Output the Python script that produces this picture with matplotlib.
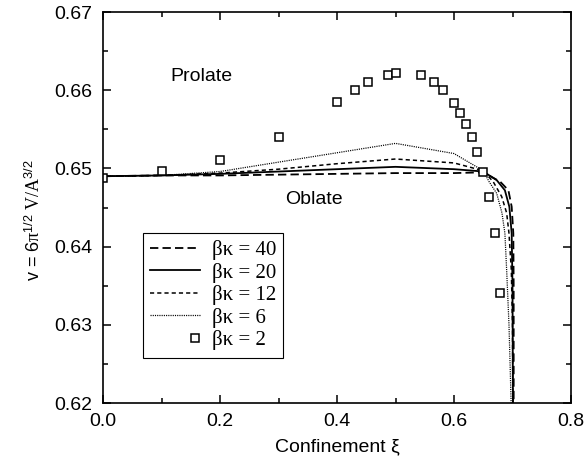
import matplotlib
matplotlib.use("Agg")
import matplotlib.pyplot as plt
from matplotlib.legend_handler import HandlerLine2D
from matplotlib.lines import Line2D
from matplotlib.ticker import MultipleLocator, FormatStrFormatter

plt.rcParams['font.family'] = ['Liberation Sans', 'DejaVu Sans']
plt.rcParams['mathtext.fontset'] = 'custom'
plt.rcParams['mathtext.rm'] = 'Liberation Serif'
plt.rcParams['mathtext.it'] = 'Liberation Serif:italic'
plt.rcParams['mathtext.sf'] = 'Liberation Sans'
plt.rcParams['lines.scale_dashes'] = False

# ---- data ----
xi_k40 = [0.0, 0.1, 0.2, 0.3, 0.4, 0.5, 0.6, 0.65, 0.679, 0.693, 0.6986, 0.7014, 0.702, 0.702]
v_k40 = [0.6490, 0.6491, 0.6491, 0.6492, 0.6493, 0.6494, 0.6494, 0.6495, 0.6483, 0.6472, 0.6451, 0.6417, 0.635, 0.615]

xi_k20 = [0.0, 0.1, 0.2, 0.3, 0.4, 0.5, 0.6, 0.65, 0.673, 0.687, 0.6946, 0.6986, 0.700, 0.701]
v_k20 = [0.6490, 0.6491, 0.6493, 0.6496, 0.6499, 0.6502, 0.6499, 0.6496, 0.6485, 0.6472, 0.6451, 0.6417, 0.635, 0.615]

xi_k12 = [0.0, 0.1, 0.2, 0.3, 0.4, 0.5, 0.6, 0.65, 0.667, 0.6815, 0.690, 0.694, 0.698, 0.700, 0.701]
v_k12 = [0.6490, 0.6491, 0.6494, 0.6499, 0.6506, 0.6512, 0.6507, 0.6497, 0.6483, 0.6464, 0.6443, 0.6417, 0.637, 0.630, 0.615]

xi_k6 = [0.0, 0.1, 0.2, 0.3, 0.4, 0.5, 0.6, 0.65, 0.66, 0.673, 0.682, 0.687, 0.690, 0.694, 0.6995]
v_k6 = [0.6490, 0.6491, 0.6496, 0.6508, 0.6520, 0.6532, 0.6519, 0.6497, 0.6483, 0.6468, 0.6443, 0.6417, 0.637, 0.630, 0.615]

xi_k2 = [0.0, 0.1, 0.2, 0.3, 0.4, 0.43, 0.453, 0.487, 0.5, 0.543, 0.566, 0.582, 0.6, 0.61,
         0.62, 0.63, 0.64, 0.65, 0.66, 0.67, 0.679]
v_k2 = [0.6488, 0.6497, 0.6511, 0.6540, 0.6585, 0.6600, 0.6610, 0.6620, 0.6622, 0.6620, 0.6610,
        0.6600, 0.6583, 0.6571, 0.6557, 0.6540, 0.6521, 0.6495, 0.6463, 0.6417, 0.6341]

labels = ['βκ = 40', 'βκ = 20', 'βκ = 12', 'βκ = 6', 'βκ = 2']

fig = plt.figure(figsize=(5.84, 4.62), dpi=100)
ax = fig.add_axes([103/584, 1-403/462, 468/584, 391/462])

l40, = ax.plot(xi_k40, v_k40, color='black', lw=1.3, dashes=(6, 3), label=labels[0])
l20, = ax.plot(xi_k20, v_k20, color='black', lw=1.3, label=labels[1])
l12, = ax.plot(xi_k12, v_k12, color='black', lw=1.1, dashes=(3, 2.2), label=labels[2])
l6, = ax.plot(xi_k6, v_k6, color='black', lw=0.9, dashes=(0.8, 0.8), label=labels[3])
l2, = ax.plot(xi_k2, v_k2, ls='none', marker='s', markersize=6, markerfacecolor='white',
              markeredgecolor='black', markeredgewidth=1.1, label=labels[4])

ax.set_xlim(0.0, 0.8)
ax.set_ylim(0.62, 0.67)
ax.xaxis.set_major_locator(MultipleLocator(0.2))
ax.xaxis.set_minor_locator(MultipleLocator(0.1))
ax.yaxis.set_major_locator(MultipleLocator(0.01))
ax.yaxis.set_minor_locator(MultipleLocator(0.005))
ax.xaxis.set_major_formatter(FormatStrFormatter('%.1f'))
ax.yaxis.set_major_formatter(FormatStrFormatter('%.2f'))

ax.tick_params(which='both', direction='in', top=True, right=True, width=1.1, labelsize=14)
ax.tick_params(which='major', length=6)
ax.tick_params(which='minor', length=3.5)
ax.tick_params(axis='x', pad=7)
ax.tick_params(axis='y', pad=8)
for s in ax.spines.values():
    s.set_linewidth(1.2)

ax.set_xlabel('Confinement ξ', fontsize=14, labelpad=6)
ax.set_ylabel(r'v = 6$\mathrm{\pi}^{\mathsf{1/2}}$ $\mathrm{V/A}^{\mathsf{3/2}}$', fontsize=13)
ax.yaxis.set_label_coords(-0.126, 0.468)

ax.text(0.1675, 0.6617, 'Prolate', fontsize=14, ha='center', va='center')
ax.text(0.361, 0.6460, 'Oblate', fontsize=14, ha='center', va='center')


class RightMarkerHandler(HandlerLine2D):
    def create_artists(self, legend, orig_handle, xdescent, ydescent, width, height,
                       fontsize, trans):
        y = (height - ydescent) / 2
        x = width - xdescent - 4
        m = Line2D([x], [y], ls='none', marker='s', markersize=6,
                   markerfacecolor='white', markeredgecolor='black', markeredgewidth=1.1)
        m.set_transform(trans)
        return [m]


leg = ax.legend(handles=[l40, l20, l12, l6, l2], loc='upper left',
                bbox_to_anchor=(0.0855, 0.4348), borderaxespad=0,
                prop={'family': 'Liberation Serif', 'size': 15},
                fancybox=False, edgecolor='black', framealpha=1,
                handlelength=2.4, handletextpad=0.55, labelspacing=0.12,
                borderpad=0.35, numpoints=1,
                handler_map={l2: RightMarkerHandler()})
leg.get_frame().set_linewidth(0.8)

fig.savefig('out.png', dpi=100)
